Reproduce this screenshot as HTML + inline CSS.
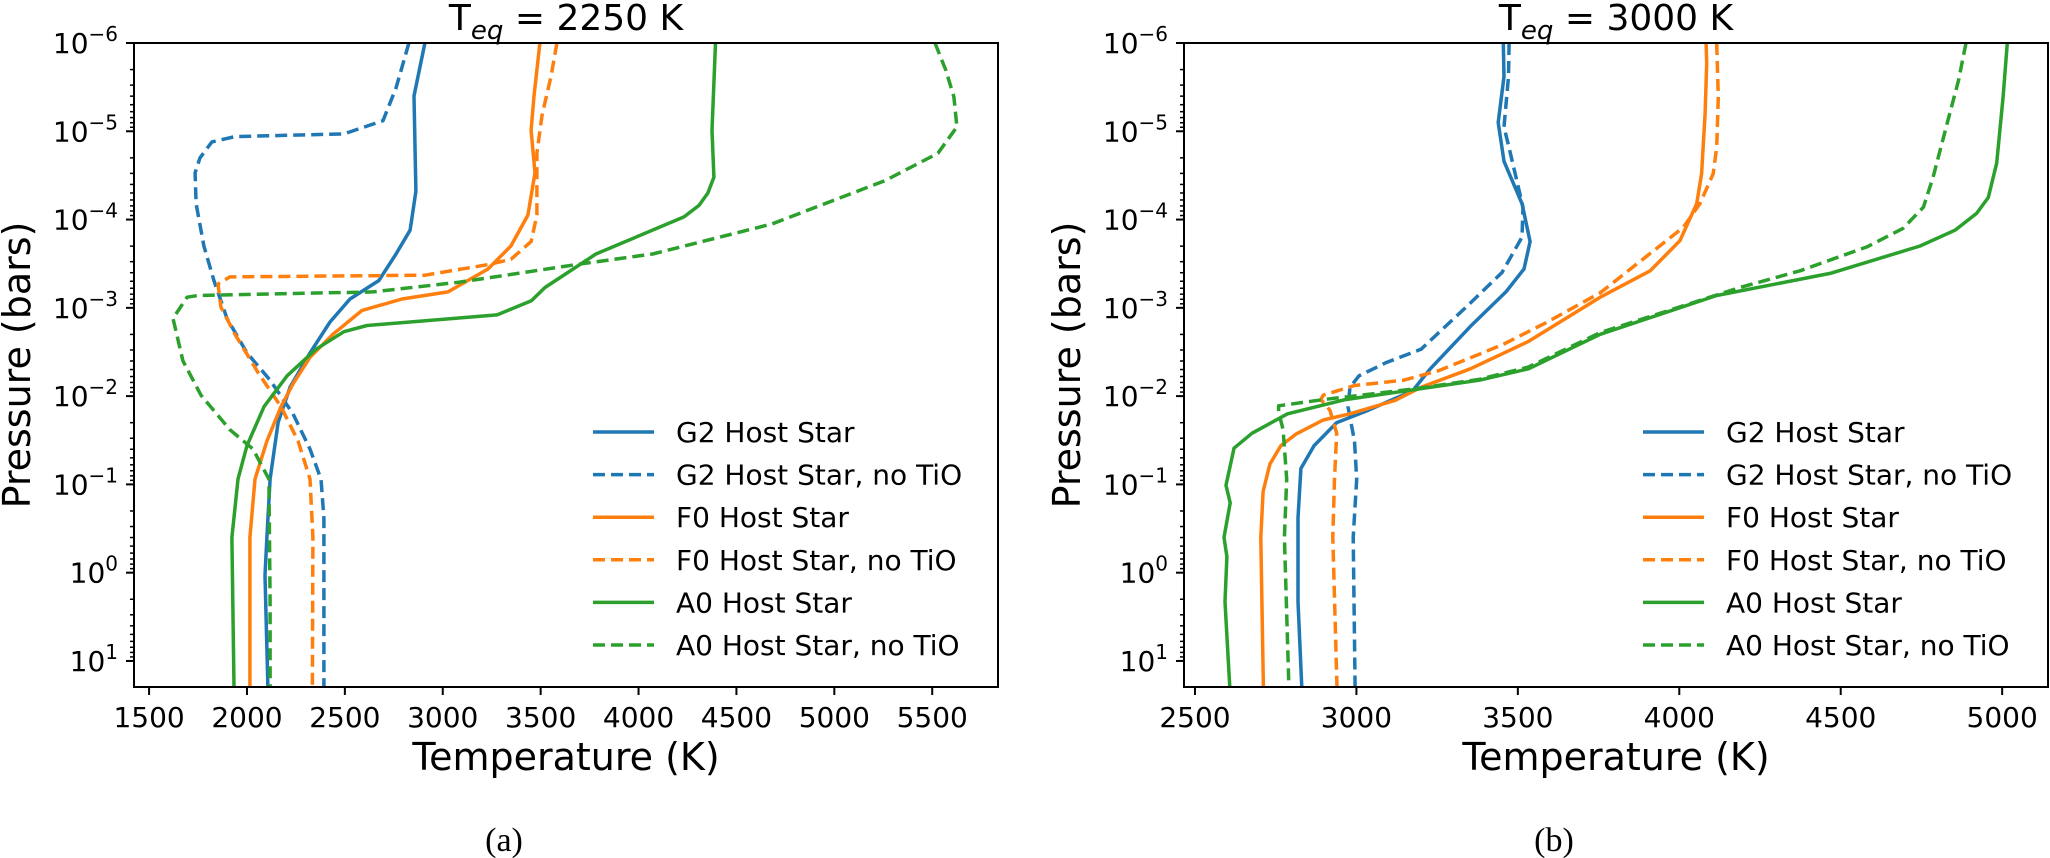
<!DOCTYPE html>
<html><head><meta charset="utf-8">
<style>
html,body{margin:0;padding:0;background:#fff;}
svg{display:block;font-family:"DejaVu Sans","Liberation Sans",sans-serif;}
</style></head>
<body>
<svg id="fig" width="2050" height="858" viewBox="0 0 2050 858" xmlns="http://www.w3.org/2000/svg">
<defs>
<clipPath id="clipA"><rect x="134" y="43" width="864" height="644"/></clipPath>
<clipPath id="clipB"><rect x="1184" y="43" width="865" height="644"/></clipPath>
</defs>
</svg>
<script>
// ---------- Panel (a) data: Teq = 2250 K ----------
const aXTicks = [1500,2000,2500,3000,3500,4000,4500,5000,5500];
const aG2T = [2909,2853,2863,2833,2761,2674,2526,2424,2322,2220,2159,2118,2102,2092,2107];
const aG2P = [-6,-5.4,-4.32,-3.88,-3.61,-3.31,-3.10,-2.84,-2.49,-2.10,-1.70,-1.06,-0.40,0.03,1.3];
const aG2nT = [2827,2761,2695,2495,1939,1821,1760,1735,1740,1780,1831,1898,2000,2118,2235,2322,2378,2393,2393,2393];
const aG2nP = [-6,-5.49,-5.12,-4.97,-4.94,-4.88,-4.7,-4.53,-4.18,-3.7,-3.31,-2.88,-2.49,-2.18,-1.8,-1.4,-1.06,-0.62,0.33,1.3];
const aF0T = [3496,3466,3451,3471,3435,3348,3231,3027,2792,2587,2439,2322,2235,2174,2102,2041,2015,2015];
const aF0P = [-6,-5.4,-5.01,-4.53,-4.05,-3.7,-3.44,-3.18,-3.1,-2.97,-2.70,-2.44,-2.14,-1.88,-1.49,-1.06,-0.4,1.3];
const aF0nT = [3583,3553,3507,3481,3481,3451,3348,3231,2909,1913,1852,1867,1939,2056,2174,2261,2322,2337,2334];
const aF0nP = [-6,-5.62,-5.18,-4.75,-4.05,-3.75,-3.55,-3.49,-3.37,-3.35,-3.27,-3.01,-2.7,-2.27,-1.88,-1.49,-1.06,-0.4,1.3];
const aA0T = [4393,4375,4385,4354,4309,4232,3782,3522,3453,3277,2613,2495,2352,2205,2087,2000,1954,1923,1934];
const aA0P = [-6,-5.01,-4.48,-4.30,-4.16,-4.03,-3.61,-3.23,-3.08,-2.92,-2.8,-2.73,-2.53,-2.23,-1.88,-1.44,-1.06,-0.4,1.3];
const aA0nT = [5514,5570,5611,5626,5529,5258,4681,4072,3680,3292,3083,2643,1750,1694,1622,1673,1765,1913,2031,2112,2118,2118];
const aA0nP = [-6,-5.69,-5.39,-5.05,-4.75,-4.44,-3.95,-3.61,-3.49,-3.36,-3.29,-3.18,-3.14,-3.12,-2.88,-2.40,-2.01,-1.62,-1.4,-1.06,0.33,1.3];
// ---------- Panel (b) data: Teq = 3000 K ----------
const bXTicks = [2500,3000,3500,4000,4500,5000];
const bG2T = [3455,3457,3439,3457,3513,3538,3519,3463,3353,3229,3174,3037,2939,2869,2828,2819,2819,2831];
const bG2P = [-6,-5.62,-5.1,-4.66,-4.18,-3.75,-3.44,-3.18,-2.79,-2.31,-2.06,-1.84,-1.7,-1.44,-1.18,-0.62,0.33,1.3];
const bG2nT = [3473,3471,3457,3477,3516,3513,3451,3340,3200,3092,3008,2980,2974,2994,3001,2990,2996];
const bG2nP = [-6,-5.62,-5.05,-4.75,-4.14,-3.80,-3.40,-3.01,-2.53,-2.38,-2.23,-2.10,-1.88,-1.49,-1.06,-0.4,1.3];
const bF0T = [4083,4085,4080,4069,4054,4002,3910,3755,3533,3353,3200,3119,2980,2897,2813,2766,2732,2711,2704,2712];
const bF0P = [-6,-5.77,-5.2,-4.52,-4.18,-3.76,-3.42,-3.12,-2.62,-2.31,-2.1,-1.95,-1.80,-1.73,-1.57,-1.44,-1.23,-0.92,-0.4,1.3];
const bF0nT = [4116,4121,4116,4105,4064,4012,3755,3587,3451,3256,3146,2994,2897,2890,2918,2939,2932,2927,2940];
const bF0nP = [-6,-5.39,-4.82,-4.52,-4.18,-3.91,-3.17,-2.83,-2.58,-2.29,-2.18,-2.12,-2.01,-1.96,-1.84,-1.58,-1.06,-0.4,1.3];
const bA0T = [5016,5003,4983,4957,4921,4854,4746,4467,4116,3755,3533,3381,3174,2966,2787,2677,2621,2596,2609,2590,2599,2593,2608];
const bA0P = [-6,-5.39,-4.64,-4.25,-4.07,-3.88,-3.70,-3.39,-3.14,-2.70,-2.31,-2.18,-2.07,-1.96,-1.80,-1.58,-1.41,-0.99,-0.79,-0.4,-0.18,0.33,1.3];
const bA0nT = [4888,4865,4824,4786,4756,4693,4581,4374,4188,3755,3533,3381,3174,2897,2759,2759,2773,2784,2777,2791];
const bA0nP = [-6,-5.58,-5.01,-4.48,-4.14,-3.90,-3.69,-3.42,-3.23,-2.72,-2.33,-2.19,-2.08,-1.96,-1.89,-1.82,-1.62,-1.06,-0.4,1.3];
const yTickExps = [-6,-5,-4,-3,-2,-1,0,1];
const legendLabels = ["G2 Host Star","G2 Host Star, no TiO","F0 Host Star","F0 Host Star, no TiO","A0 Host Star","A0 Host Star, no TiO"];

const NS = "http://www.w3.org/2000/svg";
const svg = document.getElementById('fig');
const C = {G2:"#1f77b4",F0:"#ff7f0e",A0:"#2ca02c"};
function mk(tag, attrs, parent){
  const e=document.createElementNS(NS,tag);
  for(const k in attrs) e.setAttribute(k,attrs[k]);
  (parent||svg).appendChild(e); return e;
}
function minus(s){return String(s).replace('-','\u2212');}

function panel(p){
  const g = mk('g',{});
  
  
  const X = t => p.x0 + (t - p.tmin)/(p.tmax - p.tmin)*(p.x1 - p.x0);
  const Y = lp => p.y0 + (lp - (-6))/(p.lpmax - (-6))*(p.y1 - p.y0);
  const sg = mk('g',{'clip-path':'url(#'+p.clip+')'},g);
  p.series.forEach(s=>{
    const d = s.T.map((t,i)=>(i?'L':'M')+X(t).toFixed(1)+','+Y(s.P[i]).toFixed(1)).join('');
    const path = mk('path',{d:d,fill:'none',stroke:s.c,'stroke-width':3.5,'stroke-linejoin':'round','stroke-dasharray':s.dash?'12,6':'none'},sg);
    
    
  });
  const fr = mk('rect',{x:p.x0,y:p.y0,width:p.x1-p.x0,height:p.y1-p.y0,fill:'none',stroke:'#000','stroke-width':2},g);
  
  
  p.xticks.forEach(t=>{
    const x=X(t);
    mk('line',{x1:x,x2:x,y1:p.y1,y2:p.y1+8,stroke:'#000','stroke-width':2},g);
    const tx=mk('text',{x:x,y:p.y1+40,'font-size':28,'text-anchor':'middle',fill:'#000'},g);
    tx.textContent=t;
    
    
  });
  yTickExps.forEach(e=>{
    const y=Y(e);
    mk('line',{x1:p.x0-8,x2:p.x0,y1:y,y2:y,stroke:'#000','stroke-width':2},g);
    for(let m=2;m<=9;m++){
      const ym=Y(e+Math.log10(m));
      if(ym<=p.y1) mk('line',{x1:p.x0-4,x2:p.x0,y1:ym,y2:ym,stroke:'#000','stroke-width':1.5},g);
    }
    const tx=mk('text',{x:p.x0-16,y:y+10,'font-size':28,'text-anchor':'end',fill:'#000'},g);
    
    
    const a=mk('tspan',{},tx); a.textContent='10';
    const b=mk('tspan',{dy:-12,'font-size':20},tx); b.textContent=minus(e);
  });
  const xl=mk('text',{x:(p.x0+p.x1)/2,y:770,'font-size':38,'text-anchor':'middle',fill:'#000'},g);
  xl.textContent='Temperature (K)';
  
  
  const yl=mk('text',{x:0,y:0,'font-size':38,'text-anchor':'middle',fill:'#000',transform:'translate('+(p.x0-104)+','+((p.y0+p.y1)/2)+') rotate(-90)'},g);
  yl.textContent='Pressure (bars)';
  
  
  const ti=mk('text',{x:(p.x0+p.x1)/2,y:30,'font-size':36,'text-anchor':'middle',fill:'#000'},g);
  
  
  const t1=mk('tspan',{},ti); t1.textContent='T';
  const t2=mk('tspan',{dy:9,'font-size':26,'font-style':'italic'},ti); t2.textContent='eq';
  const t3=mk('tspan',{dy:-9},ti); t3.textContent=' = '+p.teq+' K';
  const cap=mk('text',{x:p.capx,y:851,'font-size':34,'text-anchor':'middle',fill:'#000','font-family':'"Liberation Serif",serif'},g);
  cap.textContent=p.cap;
  
  
  const lg=mk('g',{},g);
  
  
  p.series.forEach((s,i)=>{
    const y=432+42.6*i;
    const ln=mk('line',{x1:p.legx,x2:p.legx+61,y1:y,y2:y,stroke:s.c,'stroke-width':3.5,'stroke-dasharray':s.dash?'12,6':'none'},lg);
    
    
    const tx=mk('text',{x:p.legx+83,y:y+10,'font-size':28,fill:'#000'},lg);
    tx.textContent=legendLabels[i];
    
    
  });
}

panel({id:'panel-a',clip:'clipA',x0:134,x1:998,y0:43,y1:687,tmin:1423,tmax:5836,lpmax:1.295,
  xticks:aXTicks,teq:2250,cap:'(a)',capx:504,legx:593,
  series:[
    {name:'g2',T:aG2T,P:aG2P,c:C.G2},
    {name:'g2-no-tio',T:aG2nT,P:aG2nP,c:C.G2,dash:1},
    {name:'f0',T:aF0T,P:aF0P,c:C.F0},
    {name:'f0-no-tio',T:aF0nT,P:aF0nP,c:C.F0,dash:1},
    {name:'a0',T:aA0T,P:aA0P,c:C.A0},
    {name:'a0-no-tio',T:aA0nT,P:aA0nP,c:C.A0,dash:1}]});
panel({id:'panel-b',clip:'clipB',x0:1184,x1:2048,y0:43,y1:687,tmin:2466,tmax:5142,lpmax:1.295,
  xticks:bXTicks,teq:3000,cap:'(b)',capx:1554,legx:1643,
  series:[
    {name:'g2',T:bG2T,P:bG2P,c:C.G2},
    {name:'g2-no-tio',T:bG2nT,P:bG2nP,c:C.G2,dash:1},
    {name:'f0',T:bF0T,P:bF0P,c:C.F0},
    {name:'f0-no-tio',T:bF0nT,P:bF0nP,c:C.F0,dash:1},
    {name:'a0',T:bA0T,P:bA0P,c:C.A0},
    {name:'a0-no-tio',T:bA0nT,P:bA0nP,c:C.A0,dash:1}]});
</script>
</body></html>
